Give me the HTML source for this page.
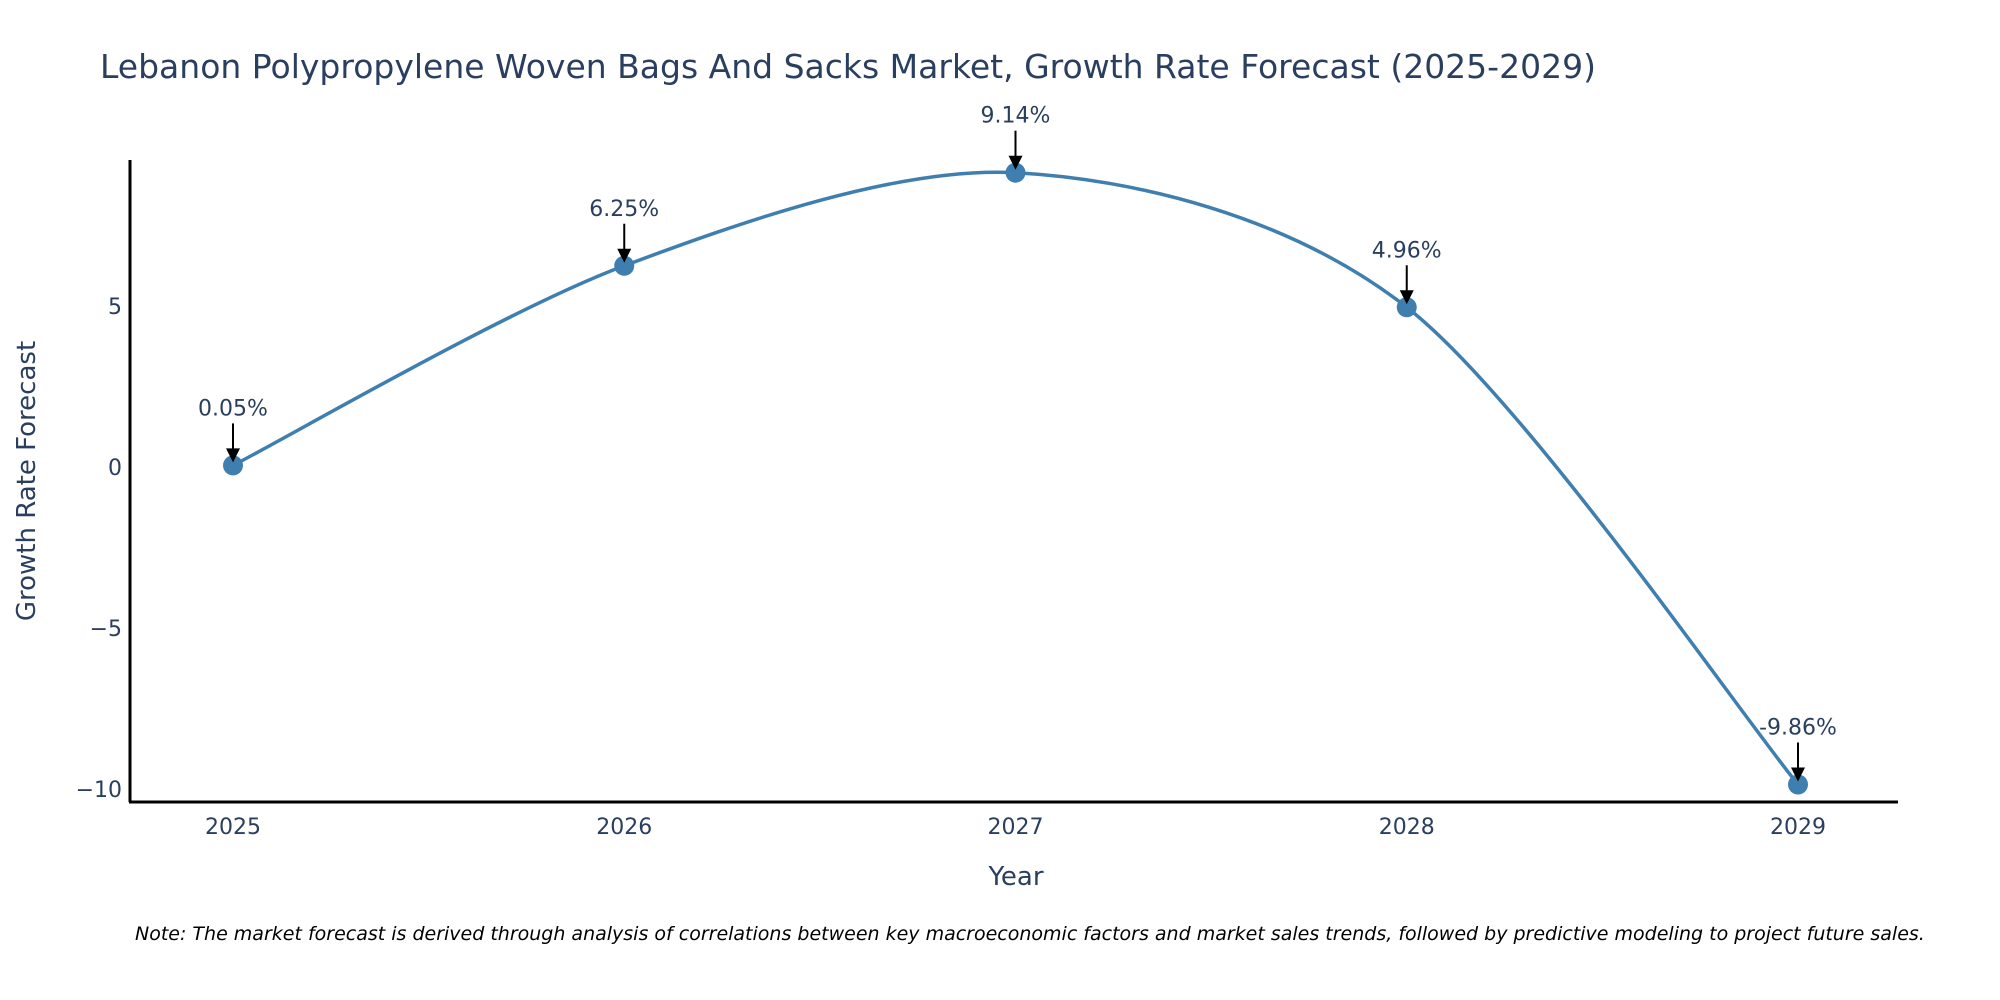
<!DOCTYPE html>
<html><head><meta charset="utf-8"><style>
body{margin:0;background:#fff;}
svg{display:block;font-family:"DejaVu Sans","Liberation Sans",sans-serif;}
</style></head><body>
<svg id="chart" width="2000" height="1000" viewBox="0 0 2000 1000">
<text x="100" y="78" font-size="33" fill="#2a3f5f">Lebanon Polypropylene Woven Bags And Sacks Market, Growth Rate Forecast (2025-2029)</text>
<g id="ticks"></g>
<path id="line" fill="none" stroke="#3f7fb0" stroke-width="3.5"/>
<g id="marks"></g>
<line x1="130" y1="160" x2="130" y2="802" stroke="#000" stroke-width="3"/>
<line x1="129" y1="802" x2="1898" y2="802" stroke="#000" stroke-width="3"/>
<text x="1016" y="885" font-size="26" fill="#2a3f5f" text-anchor="middle">Year</text>
<text transform="translate(35,481) rotate(-90)" font-size="26" fill="#2a3f5f" text-anchor="middle">Growth Rate Forecast</text>
<text x="135" y="940" font-size="19" font-style="italic" fill="#000">Note: The market forecast is derived through analysis of correlations between key macroeconomic factors and market sales trends, followed by predictive modeling to project future sales.</text>
</svg>
<script>
const years=[2025,2026,2027,2028,2029];
const values=[0.05,6.25,9.14,4.96,-9.86];
const labels=["0.05%","6.25%","9.14%","4.96%","-9.86%"];
const yTicks=[-10,-5,0,5];
const yTickLabels=["−10","−5","0","5"];
const NS="http://www.w3.org/2000/svg";
const xs=y=>233+(y-2025)*391.25;
const ys=v=>467-v*32.2;
function mk(t,a,p){const e=document.createElementNS(NS,t);for(const k in a)e.setAttribute(k,a[k]);p.appendChild(e);return e;}
const ticks=document.getElementById('ticks');
yTicks.forEach((v,i)=>{const t=mk('text',{x:122,y:ys(v)+8,'font-size':22,fill:'#2a3f5f','text-anchor':'end'},ticks);


t.textContent=yTickLabels[i];});
years.forEach(y=>{const t=mk('text',{x:xs(y),y:834,'font-size':22,fill:'#2a3f5f','text-anchor':'middle'},ticks);


t.textContent=y;});
const P=years.map((y,i)=>[xs(y),ys(values[i])]);
let d=`M${P[0][0]},${P[0][1]}`;const s=0.15;
for(let i=0;i<P.length-1;i++){const p0=P[Math.max(i-1,0)],p1=P[i],p2=P[i+1],p3=P[Math.min(i+2,P.length-1)];
const c1=[p1[0]+(p2[0]-p0[0])*s,p1[1]+(p2[1]-p0[1])*s],c2=[p2[0]-(p3[0]-p1[0])*s,p2[1]-(p3[1]-p1[1])*s];
d+=` C${c1[0]},${c1[1]} ${c2[0]},${c2[1]} ${p2[0]},${p2[1]}`;}
document.getElementById('line').setAttribute('d',d);
const marks=document.getElementById('marks');
P.forEach((p,i)=>{const c=mk('circle',{cx:p[0],cy:p[1],r:10,fill:'#3f7fb0'},marks);


const l=mk('line',{x1:p[0],y1:p[1]-42,x2:p[0],y2:p[1]-14,stroke:'#000','stroke-width':2},marks);


const a=mk('path',{d:`M${p[0]-7},${p[1]-17} L${p[0]+7},${p[1]-17} L${p[0]},${p[1]-3} Z`,fill:'#000'},marks);


const t=mk('text',{x:p[0],y:p[1]-50,'font-size':22,fill:'#2a3f5f','text-anchor':'middle'},marks);


t.textContent=labels[i];});
</script>
</body></html>
